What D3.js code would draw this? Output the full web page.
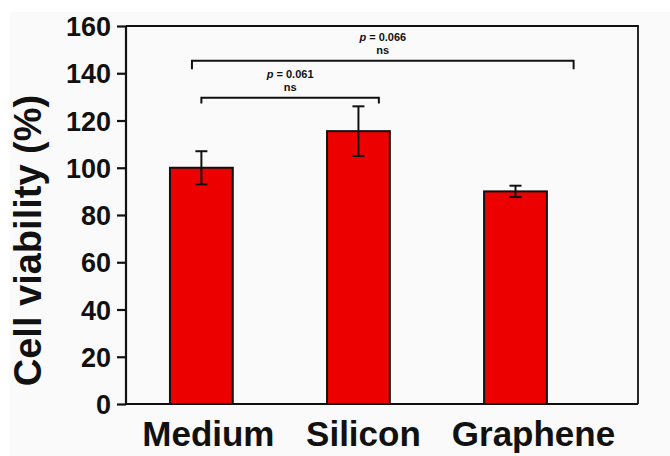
<!DOCTYPE html>
<html>
<head>
<meta charset="utf-8">
<script src="https://cdn.jsdelivr.net/npm/d3@7"></script>
<style>
  body { margin: 0; background: #fff; }
  text { font-family: "Liberation Sans", Arial, sans-serif; font-weight: bold; fill: #111; }
</style>
</head>
<body>
<svg id="chart" width="670" height="456"></svg>
<script>
// data
const categories = ["Medium", "Silicon", "Graphene"];
const viability = [100, 115.5, 90];
const errors = [7, 10.5, 2.4];
const yTicks = [0, 20, 40, 60, 80, 100, 120, 140, 160];
// significance brackets: x in category units (1 = first bar), y in %
const brackets = [
    {x1: 1.0, x2: 2.13, y: 129.6, drop: 2.4, p: "0.061", label: "ns"},
    {x1: 0.94, x2: 3.37, y: 145.3, drop: 3.6, p: "0.066", label: "ns"},
];

const svg = d3.select("#chart");
const margin = {top: 26, right: 32, bottom: 52, left: 126};
const width = 670, height = 456;

svg.append("rect")
    .attr("x", 10).attr("y", 12)
    .attr("width", width - 10).attr("height", height - 12)
    .attr("fill", "#fafafa");

const xScale = d3.scaleLinear()
    .domain([0.52, 3.78])
    .range([margin.left, width - margin.right]);

const yScale = d3.scaleLinear()
    .domain([0, 160])
    .range([height - margin.bottom, margin.top]);

const barW = xScale(1.2) - xScale(0.8);

// bars
svg.append("g")
    .selectAll("rect")
    .data(viability)
    .join("rect")
    .attr("x", (d, i) => xScale(i + 1) - barW / 2)
    .attr("y", d => yScale(d))
    .attr("width", barW)
    .attr("height", d => yScale(0) - yScale(d))
    .attr("fill", "#ec0000")
    .attr("stroke", "#111")
    .attr("stroke-width", 2);

// error bars
const eb = svg.append("g").attr("stroke", "#111").attr("stroke-width", 2);
viability.forEach((v, i) => {
    const cx = xScale(i + 1);
    eb.append("line")
        .attr("x1", cx).attr("x2", cx)
        .attr("y1", yScale(v + errors[i])).attr("y2", yScale(v - errors[i]));
    [v + errors[i], v - errors[i]].forEach(e => {
        eb.append("line")
            .attr("x1", cx - 6).attr("x2", cx + 6)
            .attr("y1", yScale(e)).attr("y2", yScale(e));
    });
});

// frame (top + right)
svg.append("path")
    .attr("d", `M${xScale.range()[0]},${yScale(160)}H${xScale.range()[1]}V${yScale(0)}`)
    .attr("fill", "none")
    .attr("stroke", "#111")
    .attr("stroke-width", 1.8);

// bottom axis line
svg.append("line")
    .attr("x1", xScale.range()[0]).attr("x2", xScale.range()[1])
    .attr("y1", yScale(0)).attr("y2", yScale(0))
    .attr("stroke", "#111").attr("stroke-width", 2.2);

// y axis
const yAxis = svg.append("g")
    .attr("transform", `translate(${margin.left},0)`)
    .call(d3.axisLeft(yScale).tickValues(yTicks).tickSize(9).tickPadding(6));
yAxis.selectAll("path, line").attr("stroke", "#111").attr("stroke-width", 2.2);
yAxis.select(".domain").attr("d", `M0,${yScale(0)}V${yScale(160)}`);
yAxis.selectAll("text")
    .attr("font-size", 27)
    .attr("font-family", "Liberation Sans, Arial, sans-serif")
    .attr("font-weight", "bold")
    .attr("fill", "#111")
    .attr("dy", "0.36em");

// x labels
svg.append("g")
    .selectAll("text")
    .data(categories)
    .join("text")
    .attr("x", (d, i) => xScale(i + 1) + [7, 5, 18][i])
    .attr("y", 446)
    .attr("text-anchor", "middle")
    .attr("font-size", 35)
    .text(d => d);

// y label
svg.append("text")
    .attr("transform", `translate(41,${(88 + 393) / 2}) rotate(-90)`)
    .attr("text-anchor", "middle")
    .attr("font-size", 38)
    .text("Cell viability (%)");

// brackets
const bg = svg.append("g");
brackets.forEach(b => {
    const xa = xScale(b.x1), xb = xScale(b.x2);
    bg.append("path")
        .attr("d", `M${xa},${yScale(b.y - b.drop)}V${yScale(b.y)}H${xb}V${yScale(b.y - b.drop)}`)
        .attr("fill", "none")
        .attr("stroke", "#111")
        .attr("stroke-width", 2);
    const cx = (xa + xb) / 2;
    const t = bg.append("text")
        .attr("x", cx).attr("y", yScale(b.y) - 20)
        .attr("text-anchor", "middle")
        .attr("font-size", 11);
    t.append("tspan").attr("font-style", "italic").text("p");
    t.append("tspan").text(" = " + b.p);
    bg.append("text")
        .attr("x", cx).attr("y", yScale(b.y) - 7)
        .attr("text-anchor", "middle")
        .attr("font-size", 11)
        .text(b.label);
});
</script>
</body>
</html>
